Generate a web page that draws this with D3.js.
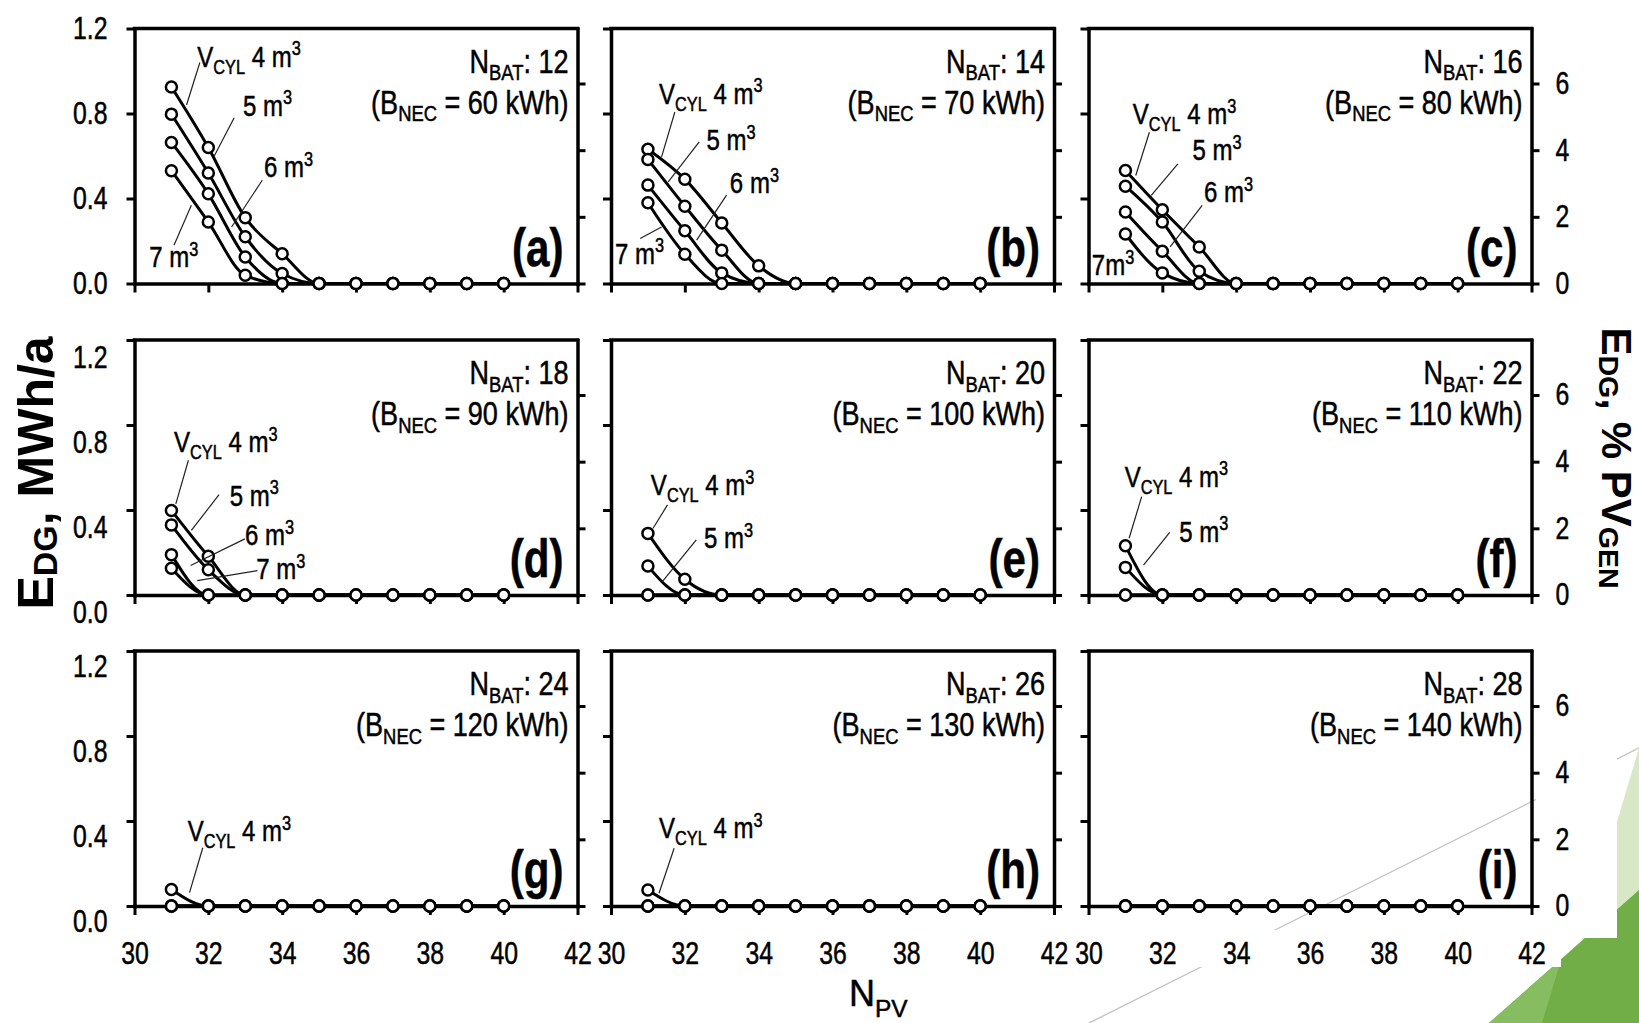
<!DOCTYPE html>
<html>
<head>
<meta charset="utf-8">
<script src="https://cdn.jsdelivr.net/npm/d3@7"></script>
<style>
  body { margin: 0; background: #fff; }
  svg { display: block; }
  text { font-family: "Liberation Sans", Arial, sans-serif; fill: #000; stroke: #000; stroke-width: 0.5px; }
  .title { font-weight: bold; stroke: none; }
</style>
</head>
<body>
<svg id="chart"></svg>
<script>
// x values (number of PV modules) for every series
const NPV = [31, 32, 33, 34, 35, 36, 37, 38, 39, 40];
const CYL_VOLUMES = [4, 5, 6, 7];            // m3, one series each
const N_BAT = [12, 14, 16, 18, 20, 22, 24, 26, 28];
const B_NEC = [60, 70, 80, 90, 100, 110, 120, 130, 140];
const PANEL_TAGS = ['a', 'b', 'c', 'd', 'e', 'f', 'g', 'h', 'i'];

// E_DG in MWh/a, rows = 4, 5, 6, 7 m3
const EDG_A = [
  [0.925, 0.64, 0.31, 0.14, 0, 0, 0, 0, 0, 0],
  [0.797, 0.52, 0.22, 0.047, 0, 0, 0, 0, 0, 0],
  [0.664, 0.422, 0.125, 0, 0, 0, 0, 0, 0, 0],
  [0.531, 0.289, 0.039, 0, 0, 0, 0, 0, 0, 0]
];
const EDG_B = [
  [0.632, 0.491, 0.285, 0.083, 0, 0, 0, 0, 0, 0],
  [0.584, 0.364, 0.157, 0, 0, 0, 0, 0, 0, 0],
  [0.463, 0.248, 0.05, 0, 0, 0, 0, 0, 0, 0],
  [0.38, 0.138, 0, 0, 0, 0, 0, 0, 0, 0]
];
const EDG_C = [
  [0.532, 0.347, 0.172, 0, 0, 0, 0, 0, 0, 0],
  [0.458, 0.289, 0.058, 0, 0, 0, 0, 0, 0, 0],
  [0.336, 0.152, 0, 0, 0, 0, 0, 0, 0, 0],
  [0.233, 0.05, 0, 0, 0, 0, 0, 0, 0, 0]
];
const EDG_D = [
  [0.398, 0.182, 0, 0, 0, 0, 0, 0, 0, 0],
  [0.33, 0.119, 0, 0, 0, 0, 0, 0, 0, 0],
  [0.19, 0, 0, 0, 0, 0, 0, 0, 0, 0],
  [0.126, 0, 0, 0, 0, 0, 0, 0, 0, 0]
];
const EDG_E = [
  [0.29, 0.074, 0, 0, 0, 0, 0, 0, 0, 0],
  [0.136, 0, 0, 0, 0, 0, 0, 0, 0, 0],
  [0, 0, 0, 0, 0, 0, 0, 0, 0, 0],
  [0, 0, 0, 0, 0, 0, 0, 0, 0, 0]
];
const EDG_F = [
  [0.232, 0, 0, 0, 0, 0, 0, 0, 0, 0],
  [0.13, 0, 0, 0, 0, 0, 0, 0, 0, 0],
  [0, 0, 0, 0, 0, 0, 0, 0, 0, 0],
  [0, 0, 0, 0, 0, 0, 0, 0, 0, 0]
];
const EDG_G = [
  [0.078, 0, 0, 0, 0, 0, 0, 0, 0, 0],
  [0, 0, 0, 0, 0, 0, 0, 0, 0, 0],
  [0, 0, 0, 0, 0, 0, 0, 0, 0, 0],
  [0, 0, 0, 0, 0, 0, 0, 0, 0, 0]
];
const EDG_H = [
  [0.075, 0, 0, 0, 0, 0, 0, 0, 0, 0],
  [0, 0, 0, 0, 0, 0, 0, 0, 0, 0],
  [0, 0, 0, 0, 0, 0, 0, 0, 0, 0],
  [0, 0, 0, 0, 0, 0, 0, 0, 0, 0]
];
const EDG_I = [
  [0, 0, 0, 0, 0, 0, 0, 0, 0, 0],
  [0, 0, 0, 0, 0, 0, 0, 0, 0, 0],
  [0, 0, 0, 0, 0, 0, 0, 0, 0, 0],
  [0, 0, 0, 0, 0, 0, 0, 0, 0, 0]
];
const EDG_PANELS = [EDG_A, EDG_B, EDG_C, EDG_D, EDG_E, EDG_F, EDG_G, EDG_H, EDG_I];

const X_TICKS = [30, 32, 34, 36, 38, 40, 42];
const Y_TICKS = [0, 0.4, 0.8, 1.2];
const Y2_TICKS = [0, 2, 4, 6];      // E_DG as % of PV generation
const Y2_MAX = 7.65;

// series callouts, placed in data units of their panel: [series, label x, label y, leader from, leader to]
const CALLOUTS = {
  a: [[0, 31.70, 1.02, [31.77, 1.04], [31.41, 0.84]], [1, 32.94, 0.79, [32.70, 0.78], [32.16, 0.60]],
      [2, 33.51, 0.50, [33.46, 0.486], [32.63, 0.266]], [3, 30.40, 0.078, [31.07, 0.18], [31.54, 0.368]]],
  b: [[0, 31.30, 0.847, [31.73, 0.807], [31.37, 0.596]], [1, 32.59, 0.627, [32.39, 0.666], [31.55, 0.478]],
      [2, 33.22, 0.426, [33.13, 0.416], [32.32, 0.204]], [3, 30.11, 0.094, [30.79, 0.212], [31.37, 0.266]]],
  c: [[0, 31.20, 0.75, [31.65, 0.712], [31.28, 0.508]], [1, 32.82, 0.579, [32.42, 0.563], [31.70, 0.415]],
      [2, 33.13, 0.384, [33.08, 0.368], [32.21, 0.172]], [3, 30.09, 0.039, null, null, true]],
  d: [[0, 31.07, 0.673, [31.46, 0.634], [31.12, 0.429]], [1, 32.58, 0.42, [32.29, 0.472], [31.54, 0.304]],
      [2, 32.99, 0.233, [32.99, 0.264], [31.52, 0.139]], [3, 33.30, 0.075, [33.33, 0.115], [31.70, 0.068]]],
  e: [[0, 31.08, 0.47, [31.53, 0.424], [31.14, 0.314]], [1, 32.52, 0.22, [32.31, 0.259], [31.39, 0.063]]],
  f: [[0, 30.98, 0.51, [31.44, 0.463], [31.10, 0.267]], [1, 32.46, 0.251, [32.2, 0.295], [31.49, 0.141]]],
  g: [[0, 31.44, 0.306, [31.85, 0.274], [31.49, 0.063]]],
  h: [[0, 31.30, 0.319, [31.71, 0.272], [31.30, 0.06]]],
  i: []
};

// layout
const W = 1639, H = 1023;
const COL_LEFT = [134.5, 611, 1088.5], PANEL_W = 443;
const ROW_TOP = [28.5, 340, 651], PANEL_H = 255;
const LEFT_LABEL_SHIFT = [0, 18, 16];   // the left tick labels sit a bit low in rows 2 and 3

const svg = d3.select('#chart').attr('width', W).attr('height', H);

// writes text made of plain / subscript / superscript pieces
function rich(text, parts, size, subDrop) {
  let shift = 0;
  const drop = subDrop === undefined ? 0.24 : subDrop;
  parts.forEach(p => {
    const target = p.sub ? size * drop : p.sup ? -size * 0.38 : 0;
    const ts = text.append('tspan').text(p.t).attr('dy', target - shift);
    if (p.sub || p.sup) ts.attr('font-size', size * 0.68);
    shift = target;
  });
  return text;
}

// narrow the glyphs horizontally (the original uses a condensed face)
function squeeze(sel, sx) {
  sel.each(function() {
    const t = d3.select(this);
    const x = +t.attr('x') || 0, y = +t.attr('y') || 0;
    const pre = t.attr('transform') || '';
    t.attr('x', 0).attr('y', 0)
     .attr('transform', `${pre} translate(${x},${y}) scale(${sx},1)`);
  });
}

// slide background decoration (line + green theme shapes, partly covered by white boxes)
const deco = svg.append('g');
deco.append('line')
    .attr('x1', 1639).attr('y1', 748).attr('x2', 1089).attr('y2', 1023)
    .attr('stroke', '#c8c8c8').attr('stroke-width', 1.5);
deco.append('polygon').attr('points', '1639,748 1557,1023 1639,1023').attr('fill', '#d8e8c6');
deco.append('polygon').attr('points', '1489,1023 1639,890 1639,1023').attr('fill', '#72ae48');
deco.append('polygon').attr('points', '1489,1023 1561,960 1542,1023').attr('fill', '#86bd60');
deco.append('rect').attr('x', 1536).attr('y', 600).attr('width', 81).attr('height', 338).attr('fill', '#fff');
deco.append('rect').attr('x', 1050).attr('y', 930).attr('width', 511).attr('height', 37).attr('fill', '#fff');

const line = d3.line().curve(d3.curveMonotoneX);

EDG_PANELS.forEach((panel, i) => {
  const r = Math.floor(i / 3), c = i % 3;
  const x0 = COL_LEFT[c], y0 = ROW_TOP[r];
  const tag = PANEL_TAGS[i];

  const x = d3.scaleLinear().domain([30, 42]).range([x0, x0 + PANEL_W]);
  const y = d3.scaleLinear().domain([0, 1.2]).range([y0 + PANEL_H, y0]);
  const y2 = d3.scaleLinear().domain([0, Y2_MAX]).range([y0 + PANEL_H, y0]);

  const g = svg.append('g').attr('class', 'panel panel-' + tag);

  // axes (frame)
  const leftAxis = g.append('g')
      .attr('transform', `translate(${x0},0)`)
      .call(d3.axisLeft(y).tickValues(Y_TICKS).tickSize(8).tickSizeOuter(0).tickPadding(19)
        .tickFormat(c === 0 ? d3.format('.1f') : ''));
  leftAxis.selectAll('text').attr('transform', `translate(0,${LEFT_LABEL_SHIFT[r]})`);

  const rightAxis = g.append('g')
      .attr('transform', `translate(${x0 + PANEL_W},0)`)
      .call(d3.axisRight(y2).tickValues(Y2_TICKS).tickSize(8).tickSizeOuter(0).tickPadding(16)
        .tickFormat(c === 2 ? d3.format('d') : ''));

  const bottomAxis = g.append('g')
      .attr('transform', `translate(0,${y0 + PANEL_H})`)
      .call(d3.axisBottom(x).tickValues(X_TICKS).tickSize(9).tickSizeOuter(0).tickPadding(27)
        .tickFormat(r === 2 ? d3.format('d') : ''));

  g.append('line')
      .attr('x1', x0).attr('x2', x0 + PANEL_W).attr('y1', y0).attr('y2', y0)
      .attr('stroke', '#000').attr('stroke-width', 3.5).attr('stroke-linecap', 'square');

  [leftAxis, rightAxis, bottomAxis].forEach(a => {
    a.attr('font-family', null).attr('font-size', 31);
    a.select('.domain').attr('stroke', '#000').attr('stroke-width', 3.5).attr('stroke-linecap', 'square');
    a.selectAll('.tick line').attr('stroke', '#000').attr('stroke-width', 3);
    squeeze(a.selectAll('text'), 0.8);
  });

  // series lines, then markers
  const series = panel.map((vals, k) => ({ vol: CYL_VOLUMES[k], pts: NPV.map((n, j) => [n, vals[j]]) }));

  g.selectAll('path.series')
    .data(series)
    .join('path')
      .attr('class', 'series')
      .attr('d', d => line(d.pts.map(p => [x(p[0]), y(p[1])])))
      .attr('fill', 'none')
      .attr('stroke', '#000')
      .attr('stroke-width', 3);

  g.selectAll('g.markers')
    .data(series)
    .join('g')
      .attr('class', 'markers')
    .selectAll('circle')
    .data(d => d.pts)
    .join('circle')
      .attr('cx', p => x(p[0]))
      .attr('cy', p => y(p[1]))
      .attr('r', 5.5)
      .attr('fill', '#fff')
      .attr('stroke', '#000')
      .attr('stroke-width', 2.5);

  // callouts naming the cylinder volume of each curve
  CALLOUTS[tag].forEach(([k, lx, ly, from, to, tight]) => {
    if (from) {
      g.append('line')
          .attr('x1', x(from[0])).attr('y1', y(from[1]))
          .attr('x2', x(to[0])).attr('y2', y(to[1]))
          .attr('stroke', '#222').attr('stroke-width', 1.2);
    }
    const t = g.append('text').attr('x', x(lx)).attr('y', y(ly)).attr('font-size', 30);
    const unit = tight ? 'm' : ' m';
    const parts = k === 0
      ? [{ t: 'V' }, { t: 'CYL', sub: true }, { t: ` ${CYL_VOLUMES[k]}${unit}` }, { t: '3', sup: true }]
      : [{ t: `${CYL_VOLUMES[k]}${unit}` }, { t: '3', sup: true }];
    rich(t, parts, 30);
    squeeze(t, 0.8);
  });

  // battery annotation, top right
  const ax = x0 + PANEL_W - 9;
  const n1 = rich(g.append('text').attr('x', ax).attr('y', y0 + 44).attr('font-size', 33).attr('text-anchor', 'end'),
       [{ t: 'N' }, { t: 'BAT', sub: true }, { t: `: ${N_BAT[i]}` }], 33);
  const n2 = rich(g.append('text').attr('x', ax).attr('y', y0 + 85).attr('font-size', 33).attr('text-anchor', 'end'),
       [{ t: '(B' }, { t: 'NEC', sub: true }, { t: ` = ${B_NEC[i]} kWh)` }], 33);
  squeeze(n1, 0.82);
  squeeze(n2, 0.82);

  // panel letter
  const lt = g.append('text')
      .attr('x', x0 + PANEL_W - 14).attr('y', y0 + PANEL_H - 18)
      .attr('text-anchor', 'end').attr('font-size', 54).attr('font-weight', 'bold')
      .text(`(${tag})`);
  squeeze(lt, 0.78);
});

// axis titles
rich(svg.append('text').attr('class', 'title')
      .attr('transform', 'translate(53,473) rotate(-90)')
      .attr('text-anchor', 'middle').attr('font-size', 50),
     [{ t: 'E' }, { t: 'DG', sub: true }, { t: ', MWh/a' }], 50, 0.08);

rich(svg.append('text').attr('class', 'title')
      .attr('transform', 'translate(1602,458) rotate(90)')
      .attr('text-anchor', 'middle').attr('font-size', 42),
     [{ t: 'E' }, { t: 'DG', sub: true }, { t: ', % PV' }, { t: 'GEN', sub: true }], 42, 0.08);

rich(svg.append('text')
      .attr('x', 849).attr('y', 1006).attr('font-size', 36),
     [{ t: 'N' }, { t: 'PV', sub: true }], 36, 0.3);
</script>
</body>
</html>
